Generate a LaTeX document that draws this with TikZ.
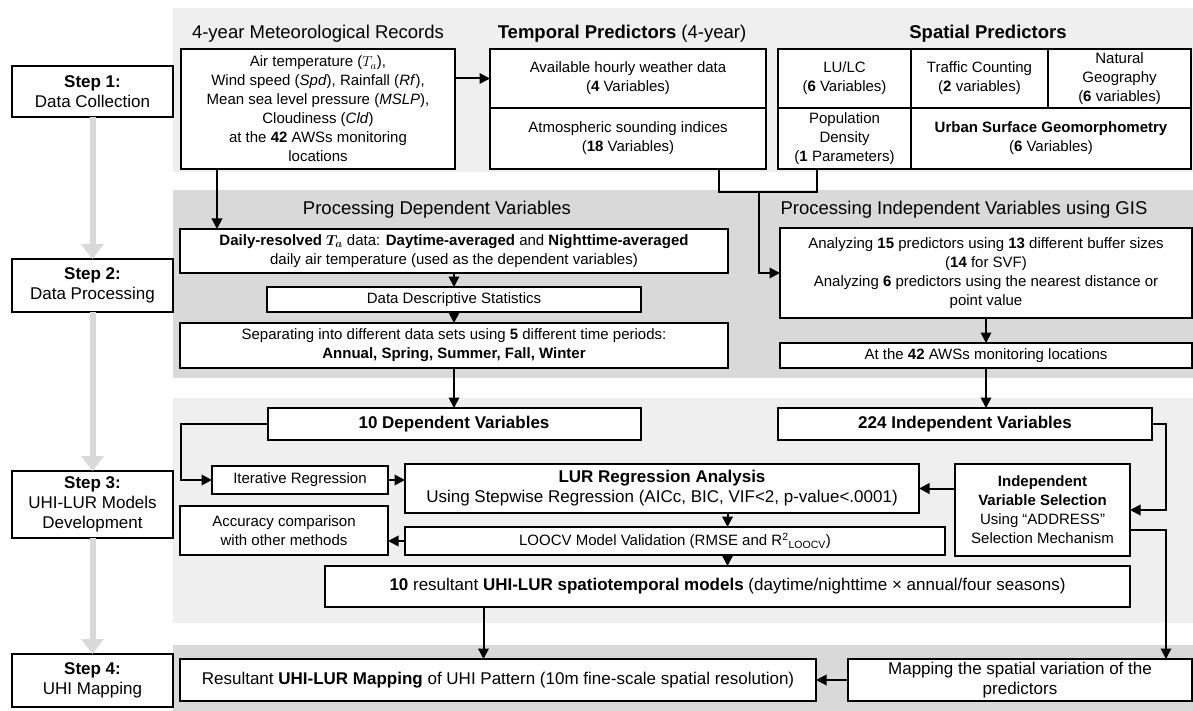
\documentclass[tikz,border=0pt]{standalone}
\usepackage{fontspec}
\setmainfont{Liberation Sans}
\usepackage{amsmath}
\usepackage{amssymb}
\usepackage{tikz}
\usetikzlibrary{arrows.meta,positioning}

\definecolor{panellight}{HTML}{EFEFEF}
\definecolor{paneldark}{HTML}{D9D9D9}
\definecolor{stepgray}{HTML}{D9D9D9}

\begin{document}
\begin{tikzpicture}[x=1pt,y=-1pt,>={Triangle[length=10.5pt,width=10.5pt]},line width=2pt,
            box/.style={draw,rectangle,fill=white,align=center,inner sep=1pt,outer sep=0pt,
              font=\fontsize{15}{19}\selectfont},
            bigbox/.style={box,font=\fontsize{17}{20}\selectfont},
            stepbox/.style={box,font=\fontsize{17}{20}\selectfont,minimum width=161},
            ttl/.style={inner sep=0pt,font=\fontsize{18.5}{22}\selectfont},
            stepflow/.style={draw=stepgray,line width=6pt,-{Triangle[length=15pt,width=22pt]}}]
            \useasboundingbox (0,0) rectangle (1193,711);

            \fill[panellight] (173,8)   rectangle (1193,172);
            \fill[paneldark]  (173,190) rectangle (1193,378);
            \fill[panellight] (173,398) rectangle (1193,623);
            \fill[paneldark]  (173,645) rectangle (1193,711);

            \node[ttl] (mettitle) at (318,34)  {4-year Meteorological Records};
            \node[ttl] (tmptitle) at (622,34)  {\textbf{Temporal Predictors} (4-year)};
            \node[ttl] (spatitle) at (988,34)  {\textbf{Spatial Predictors}};
            \node[ttl] (deptitle) at (437,210) {Processing Dependent Variables};
            \node[ttl] (indtitle) at (964,210) {Processing Independent Variables using GIS};

            \node[stepbox,minimum height=51] (step1) at (92.5,92)    {\textbf{Step 1:}\\Data Collection};
            \node[stepbox,minimum height=53] (step2) at (92.5,285.5) {\textbf{Step 2:}\\Data Processing};
            \node[stepbox,minimum height=67] (step3) at (92.5,504.5) {\textbf{Step 3:}\\UHI-LUR Models\\Development};
            \node[stepbox,minimum height=53] (step4) at (92.5,680.5) {\textbf{Step 4:}\\UHI Mapping};

            \node[box,minimum width=274,minimum height=120] (met) at (318,109)
              {Air temperature ($T_a$),\\Wind speed (\textit{Spd}), Rainfall (\textit{Rf}),\\
               Mean sea level pressure (\textit{MSLP}),\\Cloudiness (\textit{Cld})\\
               at the \textbf{42} AWSs monitoring\\locations};
            \node[box,minimum width=276,minimum height=59] (tmp1) at (628,78.5)
              {Available hourly weather data\\(\textbf{4} Variables)};
            \node[box,minimum width=276,minimum height=61] (tmp2) [below=0pt of tmp1]
              {Atmospheric sounding indices\\(\textbf{18} Variables)};
            \node[box,minimum width=133,minimum height=59] (lulc) at (844.5,78.5)
              {LU/LC\\(\textbf{6} Variables)};
            \node[box,minimum width=137,minimum height=59] (traffic) [right=0pt of lulc]
              {Traffic Counting\\(\textbf{2} variables)};
            \node[box,minimum width=143,minimum height=59] (natgeo) [right=0pt of traffic]
              {Natural\\Geography\\(\textbf{6} variables)};
            \node[box,minimum width=133,minimum height=61] (popden) [below=0pt of lulc]
              {Population\\Density\\(\textbf{1} Parameters)};
            \node[box,minimum width=280,minimum height=61] (urban) [right=0pt of popden]
              {\textbf{Urban Surface Geomorphometry}\\(\textbf{6} Variables)};

            \node[box,minimum width=548,minimum height=44] (daily) at (454,251)
              {\textbf{Daily-resolved} $\boldsymbol{T_a}$ data: \textbf{Daytime-averaged} and \textbf{Nighttime-averaged}\\
               daily air temperature (used as the dependent variables)};
            \node[box,minimum width=374,minimum height=25] (desc) [below=14pt of daily]
              {Data Descriptive Statistics};
            \node[box,minimum width=548,minimum height=45] (sep) [below=11pt of desc]
              {Separating into different data sets using \textbf{5} different time periods:\\
               \textbf{Annual, Spring, Summer, Fall, Winter}};
            \node[box,minimum width=412,minimum height=90] (analyze) at (986,273)
              {Analyzing \textbf{15} predictors using \textbf{13} different buffer sizes\\(\textbf{14} for SVF)\\
               Analyzing \textbf{6} predictors using the nearest distance or\\point value};
            \node[box,minimum width=412,minimum height=25] (aws) [below=25pt of analyze]
              {At the \textbf{42} AWSs monitoring locations};

            \node[bigbox,minimum width=373,minimum height=32] (dep10)  at (454,424) {\textbf{10 Dependent Variables}};
            \node[bigbox,minimum width=374,minimum height=32] (ind224) at (965,424) {\textbf{224 Independent Variables}};
            \node[box,minimum width=176,minimum height=28]    (iter)   at (300,480) {Iterative Regression};
            \node[bigbox,minimum width=514,minimum height=49] (lur)    at (662,488.5)
              {\textbf{LUR Regression Analysis}\\Using Stepwise Regression (AICc, BIC, VIF<2, p-value<.0001)};
            \node[box,minimum width=208,minimum height=49]    (acc)    at (284,530.5) {Accuracy comparison\\with other methods};
            \node[box,minimum width=540,minimum height=28]    (loocv)  at (675,541)
              {LOOCV Model Validation (RMSE and R\textsuperscript{2}\textsubscript{LOOCV})};
            \node[box,minimum width=175,minimum height=92]    (ivs)    at (1042.5,510)
              {\textbf{Independent}\\\textbf{Variable Selection}\\Using “ADDRESS”\\Selection Mechanism};
            \node[bigbox,minimum width=805,minimum height=41] (res10)  at (727.5,586.5)
              {\textbf{10} resultant \textbf{UHI-LUR spatiotemporal models} (daytime/nighttime × annual/four seasons)};
            \node[bigbox,minimum width=636,minimum height=42] (result) at (498,680)
              {Resultant \textbf{UHI-LUR Mapping} of UHI Pattern (10m fine-scale spatial resolution)};
            \node[bigbox,minimum width=344,minimum height=42] (map)    at (1020,680)
              {Mapping the spatial variation of the\\predictors};

            \path (step1) edge[stepflow] (step2)
                  (step2) edge[stepflow] (step3)
                  (step3) edge[stepflow] (step4);

            \coordinate (metout) at ([xshift=-101pt]met.south);
            \coordinate (tmpout) at ([xshift=91pt]tmp2.south);
            \coordinate (popout) at ([xshift=-27.5pt]popden.south);
            \coordinate (brk)    at (759,192);
            \coordinate (ivsout) at ([yshift=-20pt]ivs.east);
            \coordinate (resout) at ([xshift=-244pt]res10.south);

            \draw[->] (tmp1.west -| met.east) -- (tmp1.west);
            \draw[->] (metout) -- (daily.north -| metout);
            \draw     (tmpout) |- (brk) -| (popout);
            \draw[->] (brk) |- (analyze.west);
            \draw[->] (daily) -- (desc);
            \draw[->] (desc) -- (sep);
            \draw[->] (sep) -- (dep10);
            \draw[->] (analyze) -- (aws);
            \draw[->] (aws.south) -- (aws.south |- ind224.north);
            \draw[->] (dep10.west) -- ++(-87,0) |- (iter.west);
            \draw[->] (iter.east) -- (iter.east -| lur.west);
            \draw[->] (lur.east -| ivs.west) -- (lur.east);
            \draw[->] (ind224.east) -- ++(14,0) |- (ivs.east);
            \draw[->] (res10.north |- lur.south) -- (res10.north |- loocv.north);
            \draw[->] (res10.north |- loocv.south) -- (res10.north);
            \draw[->] (loocv.west) -- (loocv.west -| acc.east);
            \draw[->] (ivsout) -| ([xshift=146pt]map.north);
            \draw[->] (resout) -- (resout |- result.north);
            \draw[->] (map.west) -- (result.east);

          \end{tikzpicture}
\end{document}
